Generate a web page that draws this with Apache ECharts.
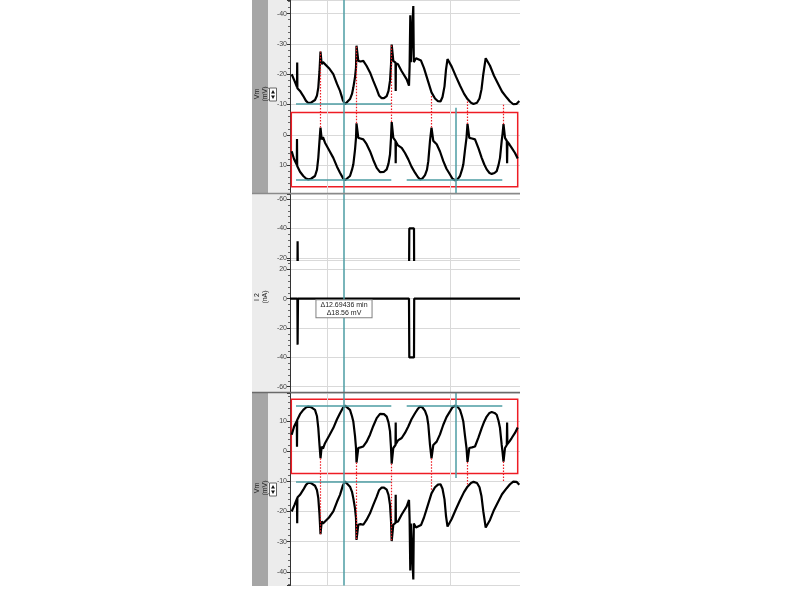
<!DOCTYPE html>
<html>
<head>
<meta charset="utf-8">
<title>Vm / I2 sweep</title>
<script src="https://cdn.jsdelivr.net/npm/echarts@6/dist/echarts.min.js"></script>
<style>
  html, body { margin: 0; padding: 0; background: #fff; }
  #chart { width: 800px; height: 600px; }
</style>
</head>
<body>
<div id="chart"></div>
<script>
// time runs along the sweep (0 = left edge of the plot, no scale shown)
// Vm trace inside the red box (mV)
var traceA = [[1.7,5.4],[4,8],[6.8,9.9],[7.0,1.4],[7.2,10.3],[10,12.2],[13.3,13.6],[16,14.4],[18.3,14.7],[21,14.5],
  [25,13.6],[27,11.5],[28.3,7.6],[29.5,2],[30.5,-2.4],[31.7,1.5],[33,0.8],[35,2.6],[39,5],[43.3,7.6],[47,10.5],
  [50,12.5],[53,14.3],[55,15],[57,14.7],[60,13.6],[62,11.5],[63.3,9.8],[65,5],[66,1],[66.5,-3.8],[68.3,1],
  [70.5,1.2],[73.3,1.5],[76.5,3],[80,5.4],[83.3,8.3],[86.7,10.9],[90,12.3],[91.7,12.6],[94,12.2],[96.7,11.4],
  [98.5,9.5],[100,6.5],[101,1],[101.7,-4.2],[103.3,1],[105.5,2],[105.7,9.4],[105.9,2.3],[108,3.5],[111.7,4.3],
  [115,6],[118.3,8.1],[121.5,10.5],[125,12.5],[128,14],[130,14.7],[132.5,14.4],[135,13.3],[137,11.5],[138.3,8.7],
  [140,2],[141.5,-2.4],[143.3,2],[145,2.4],[146.7,3.1],[150,5.5],[153.3,8.7],[156.5,11.2],[160,13.1],[162.5,14.5],
  [165,15],[167.5,14.7],[170,13.6],[172,11.5],[173.3,9.8],[175,5],[176.5,1],[177.5,-3.6],[179.3,1],[182,1.2],
  [185,1.5],[188.5,4.5],[191.7,7.6],[194.3,9.8],[196.7,11.4],[199.5,12.6],[201.7,12.9],[204.5,12.6],[206.7,12],
  [208.5,10],[210,7.6],[211.7,2],[212.6,-0.5],[213.5,-3.5],[215,1],[216.8,2],[217.1,9.4],[217.4,2.3],[219.5,3.2],
  [221.7,4.3],[225,6],[227.7,7.8]];

// Vm trace below it (mV), phase shifted after the pulse
var traceB = [[1.7,-20],[4.5,-17.8],[7.0,-15.8],[7.2,-23.9],[7.4,-15.4],[10,-14.5],[13.3,-12.8],[16,-11.2],
  [18.3,-10.5],[21,-10.6],[25,-11.5],[27,-13],[28.3,-15.6],[29.5,-21],[30.5,-27.5],[31.7,-23.3],[33,-24],
  [35,-23.6],[39,-22],[43.3,-20],[47,-16.8],[50,-14.5],[53,-11.3],[55,-10.1],[57,-10.4],[60,-11.8],[62,-13.5],
  [63.3,-15.6],[65,-19],[66,-22.2],[66.5,-29.4],[68.3,-24.4],[70.5,-24.2],[73.3,-24.4],[76.5,-22.8],[80,-20.6],
  [83.3,-17.8],[86.7,-15.1],[89,-13],[91.7,-12.1],[94,-12.1],[96.7,-12.8],[98.5,-14.5],[100,-17.8],[101,-23],
  [101.7,-29.8],[103.3,-24.4],[105.5,-23.8],[105.7,-14.5],[105.9,-23.6],[108,-23.3],[111.7,-21],[116.7,-18.3],
  [119,-16.2],[119.6,-22.5],[120.3,-39.5],[120.8,-24],[122.5,-24],[123.3,-42.5],[123.8,-24],[126,-25.3],
  [131,-24.5],[134,-22],[137,-18.8],[141.5,-14],[145,-12],[148,-11.1],[150.5,-11],[152.5,-12.5],[154.5,-16],
  [156,-21.5],[157.5,-25],[161.7,-22.5],[166,-19.2],[170,-16.3],[174,-13.6],[177.5,-11.8],[181,-10.6],
  [183.5,-10.2],[187,-10.6],[189.5,-12],[191.5,-15],[193.3,-20],[195.7,-25.3],[200,-22.8],[204,-19.5],
  [208.3,-16.7],[212,-14.3],[216.7,-12.3],[220,-11],[223.3,-10.1],[226.5,-10.2],[229.3,-11.2]];

// I 2 command current (nA)
var currentI2 = [[0,0],[7.4,0],[7.6,-31.3],[7.8,-15.5],[8,0],[119,0],[119.3,-40],[124,-40],[124.2,0],[230,0]];

// vertical grid lines and cursors along time
var gridTimes = [37, 160.7];
var cursorTimes = [54, 165.3];
var cursor2Vm = [19.2, -8.9];
var cursorText = ['Δ12.69436 min', 'Δ18.56 mV'];

// horizontal cursor levels: [from t, to t, mV]
var levelLines = [[6, 101.3, 14.9], [116.7, 212.3, 14.9], [6, 101, -10.1]];

// red dotted drop lines from the boxed trace to the lower trace
var dropTimes = [30.5, 66.5, 101.5, 141.5, 177.5, 213.5];
var dropFrom = [-2.4, -3.8, -4.2, -2.4, -3.6, -3.5];
var dropTo = [-27.5, -29.4, -29.8, -13, -11.2, -10];

// red box
var boxTimes = [1.3, 227.7];
var boxVm = [17.1, -7.4];

var FONT = 'Liberation Sans, Arial, sans-serif';
var GRIDC = '#d9d9d9', CYAN = '#4d9da3', RED = '#ee1c24';

var myChart = echarts.init(document.getElementById('chart'));

function yAx(gi, min, max, step, inverse) {
    return {
        type: 'value', gridIndex: gi, min: min, max: max, inverse: inverse,
        minInterval: step, maxInterval: step,
        axisLine: { show: true, lineStyle: { color: '#333', width: 1 } },
        axisTick: { show: true, length: 3, lineStyle: { color: '#333' } },
        minorTick: { show: true, splitNumber: 5, length: 2, lineStyle: { color: '#666' } },
        splitLine: { show: true, lineStyle: { color: GRIDC, width: 1 } },
        axisLabel: { fontSize: 7, color: '#444', margin: 3, fontFamily: FONT,
                     showMinLabel: false, showMaxLabel: false }
    };
}

function xAx(gi) {
    return { type: 'value', gridIndex: gi, min: 0, max: 230, show: false };
}

// an empty series that only carries marker lines in one style
function lineLayer(gi, z, style, data) {
    return {
        type: 'line', xAxisIndex: gi, yAxisIndex: gi, data: [], silent: true,
        itemStyle: { color: style.color },
        markLine: {
            silent: true, z: z, symbol: ['none', 'none'], label: { show: false },
            lineStyle: style, emphasis: { disabled: true }, data: data
        }
    };
}

function seg(t0, v0, t1, v1) {
    return [{ coord: [t0, v0] }, { coord: [t1, v1] }];
}

function gridLinesSeries(gi) {
    return lineLayer(gi, 1, { color: GRIDC, width: 1, type: 'solid' },
        gridTimes.map(function (t) { return { xAxis: t }; }));
}

function trace(data, gi, width) {
    return {
        type: 'line', xAxisIndex: gi, yAxisIndex: gi, data: data, symbol: 'none',
        silent: true, z: 3, lineStyle: { color: '#000', width: width }
    };
}

function vmSeries(gi) {
    var a = trace(traceA, gi, 2.2);
    a.markArea = {
        silent: true,
        itemStyle: { color: 'rgba(0,0,0,0)', borderColor: RED, borderWidth: 1.5 },
        data: [[{ coord: [boxTimes[0], boxVm[0]] }, { coord: [boxTimes[1], boxVm[1]] }]]
    };
    var cyanLines = [{ xAxis: cursorTimes[0] },
        seg(cursorTimes[1], cursor2Vm[0], cursorTimes[1], cursor2Vm[1])];
    levelLines.forEach(function (l) { cyanLines.push(seg(l[0], l[2], l[1], l[2])); });
    var redLines = dropTimes.map(function (t, i) { return seg(t, dropFrom[i], t, dropTo[i]); });
    return [
        gridLinesSeries(gi), a, trace(traceB, gi, 2.2),
        lineLayer(gi, 5, { color: CYAN, width: 1.5, type: 'solid' }, cyanLines),
        lineLayer(gi, 6, { color: RED, width: 1.2, type: [1.5, 1.5] }, redLines)
    ];
}

function currentSeries(gi, withNote) {
    var s = trace(currentI2, gi, 2.2);
    if (withNote) {
        s.markPoint = {
            silent: true, symbol: 'rect', symbolSize: 0,
            data: [{ coord: [cursorTimes[0], 0] }],
            label: {
                show: true, position: 'bottom', distance: 1.5,
                formatter: cursorText.join('\n'),
                fontSize: 7, lineHeight: 8, color: '#222', fontFamily: FONT,
                backgroundColor: '#fff', borderColor: '#808080', borderWidth: 1,
                padding: [1, 4, 0, 4]
            }
        };
    }
    return [gridLinesSeries(gi), s,
        lineLayer(gi, 5, { color: CYAN, width: 1.5, type: 'solid' }, [{ xAxis: cursorTimes[0] }])];
}

function upDown(y) {
    return {
        type: 'group', x: 269.5, y: y, z: 10,
        children: [
            { type: 'rect', shape: { x: 0, y: 0, width: 7, height: 13 }, style: { fill: '#fff', stroke: '#666', lineWidth: 1 } },
            { type: 'polygon', shape: { points: [[1.5, 5.5], [3.5, 2], [5.5, 5.5]] }, style: { fill: '#111' } },
            { type: 'polygon', shape: { points: [[1.5, 7.5], [3.5, 11], [5.5, 7.5]] }, style: { fill: '#111' } }
        ]
    };
}

function sideText(text, x, y) {
    return {
        type: 'text', x: x, y: y, rotation: Math.PI / 2, z: 10,
        style: { text: text, fontSize: 7, lineHeight: 8, fontFamily: FONT, fill: '#222',
                 align: 'center', verticalAlign: 'middle' }
    };
}

var option = {
    backgroundColor: '#fff',
    animation: false,
    grid: [
        { left: 290, top: 0, width: 230, height: 193 },
        { left: 290, top: 194, width: 230, height: 66 },
        { left: 290, top: 260, width: 230, height: 132 },
        { left: 290, top: 393, width: 230, height: 192.5 }
    ],
    xAxis: [xAx(0), xAx(1), xAx(2), xAx(3)],
    yAxis: [
        yAx(0, -44.5, 19.2, 10, true),
        yAx(1, -63.5, -18.5, 20, true),
        yAx(2, -63.6, 26.4, 20, false),
        yAx(3, -44.5, 19.2, 10, false)
    ],
    graphic: [
        { type: 'rect', z: -5, shape: { x: 252, y: 0, width: 38.5, height: 586 }, style: { fill: '#ececec' } },
        { type: 'rect', z: -4, shape: { x: 252, y: 0, width: 16, height: 193 }, style: { fill: '#a6a6a6' } },
        { type: 'rect', z: -4, shape: { x: 252, y: 393, width: 16, height: 193 }, style: { fill: '#a6a6a6' } },
        { type: 'line', z: 10, shape: { x1: 252, y1: 193.5, x2: 520, y2: 193.5 }, style: { stroke: '#8a8a8a', lineWidth: 1.5 } },
        { type: 'line', z: 10, shape: { x1: 252, y1: 392.5, x2: 520, y2: 392.5 }, style: { stroke: '#6a6a6a', lineWidth: 1.5 } },
        sideText('Vm\n(mV)', 261.5, 94),
        sideText('I 2\n(nA)', 261, 297),
        sideText('Vm\n(mV)', 261, 488),
        upDown(88),
        upDown(483)
    ],
    series: [].concat(vmSeries(0), currentSeries(1, false), currentSeries(2, true), vmSeries(3))
};

myChart.setOption(option);
window.addEventListener('resize', function () {
    myChart.resize();
});
</script>
</body>
</html>
